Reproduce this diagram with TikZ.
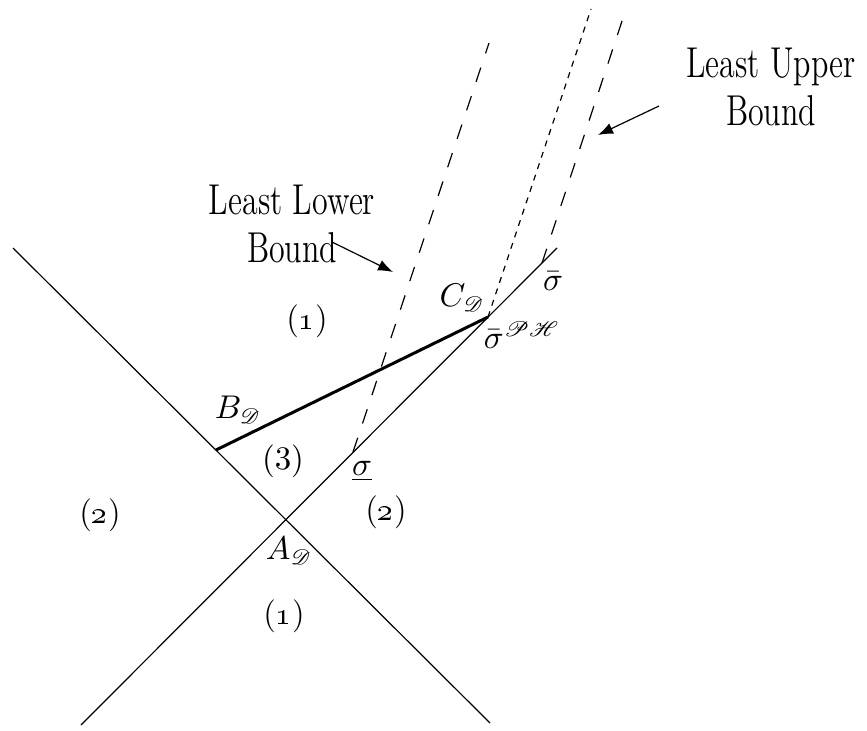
\documentclass[tikz,border=0pt]{standalone}
\usepackage{graphicx}
\usepackage{mathrsfs}
\usepackage{tikz}
\usetikzlibrary{arrows.meta,positioning}
\newcommand{\sqz}[1]{\scalebox{0.74}[1]{#1}}

\begin{document}
\begin{tikzpicture}[x=0.3333pt,y=-0.3333pt,
  lbl/.style={font=\fontsize{10.5}{12}\selectfont,inner sep=0pt},
  reg/.style={font=\fontsize{11}{12}\selectfont,inner sep=0pt},
  bnd/.style={font=\fontsize{14.4}{16}\selectfont,align=center,inner sep=0pt}]
  \useasboundingbox (0,0) rectangle (867,731);
  % the two lines and the points on them
  \coordinate (p1) at (13,248);
  \coordinate (p2) at (490,723);
  \coordinate (q1) at (81,725);
  \coordinate (q2) at (557,248);
  \coordinate (A) at (286,520);
  \coordinate (B) at (216,450);
  \coordinate (C) at (488,317);
  \coordinate (slo) at (353,452);
  \coordinate (sup) at (542,263);
  \coordinate (lotop) at (489,43);
  \coordinate (ctop) at (591,9);
  \coordinate (uptop) at (626,9);
  \draw[thin] (p1)--(p2);
  \draw[thin] (q1)--(q2);
  \draw[line width=1pt] (B)--(C);
  \draw[thin,dash pattern=on 5pt off 5pt] (slo)--(lotop);
  \draw[thin,dash pattern=on 2pt off 2pt] (C)--(ctop);
  \draw[thin,dash pattern=on 5pt off 5pt] (sup)--(uptop);
  % labels
  \node[lbl] (cd) at (462,298) {$C_{\mathscr{D}}$};
  \node[lbl] (bd) at (238,410) {$B_{\mathscr{D}}$};
  \node[lbl] (ad) at (289,551) {$A_{\mathscr{D}}$};
  \node[lbl] (sbar) at (553,281) {$\bar{\sigma}$};
  \node[lbl] (sph) at (522,335) {$\bar{\sigma}^{\mathscr{P}\mathscr{H}}$};
  \node[lbl] (slow) at (362,471) {$\underline{\sigma}$};
  \node[reg] (r3) at (283,461) {$(3)$};
  \node[reg] (r1top) at (307,321) {(\oldstylenums{1})};
  \node[reg] (r1bot) at (284,616) {(\oldstylenums{1})};
  \node[reg] (r2left) at (100,515) {(\oldstylenums{2})};
  \node[reg] (r2right) at (386,512) {(\oldstylenums{2})};
  \node[bnd] (llb) at (292,224) {\sqz{Least Lower}\\\sqz{Bound}};
  \node[bnd] (lub) at (771,87) {\sqz{Least Upper}\\\sqz{Bound}};
  \coordinate (llbtail) at (332,242);
  \coordinate (llbhead) at (393,272);
  \coordinate (lubtail) at (659,106);
  \coordinate (lubhead) at (598,135);
  \draw[-{Latex[length=5pt]}] (llbtail)--(llbhead);
  \draw[-{Latex[length=5pt]}] (lubtail)--(lubhead);
\end{tikzpicture}
\end{document}
